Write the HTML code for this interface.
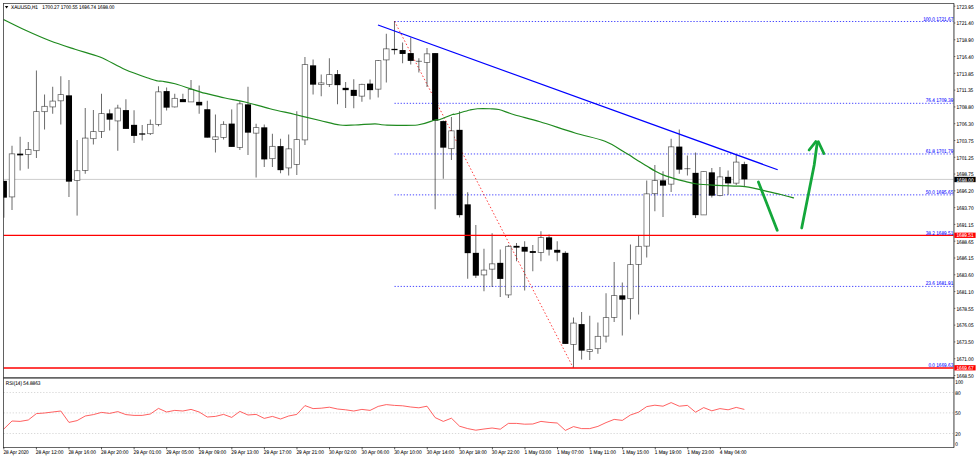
<!DOCTYPE html>
<html><head><meta charset="utf-8"><title>XAUUSD H1</title>
<style>html,body{margin:0;padding:0;background:#fff;}body{width:979px;height:460px;overflow:hidden;position:relative;font-family:"Liberation Sans",sans-serif;}</style>
</head><body>
<svg width="979" height="460" viewBox="0 0 979 460" style="position:absolute;left:0;top:0;display:block" font-family="Liberation Sans, sans-serif" font-size="4.75" text-rendering="geometricPrecision">
<rect x="0" y="0" width="979" height="460" fill="#ffffff"/>
<defs><clipPath id="cm"><rect x="3.5" y="3.5" width="950.1" height="374.3"/></clipPath></defs>
<line x1="3.5" y1="179.4" x2="953.6" y2="179.4" stroke="#b8b8b8" stroke-width="0.7"/>
<g clip-path="url(#cm)">
<line x1="394.5" y1="21.50" x2="953.6" y2="21.50" stroke="#0000ff" stroke-width="0.9" stroke-dasharray="1.3 1.75" stroke-opacity="0.8"/>
<line x1="394.5" y1="103.32" x2="953.6" y2="103.32" stroke="#0000ff" stroke-width="0.9" stroke-dasharray="1.3 1.75" stroke-opacity="0.8"/>
<line x1="394.5" y1="153.96" x2="953.6" y2="153.96" stroke="#0000ff" stroke-width="0.9" stroke-dasharray="1.3 1.75" stroke-opacity="0.8"/>
<line x1="394.5" y1="194.87" x2="953.6" y2="194.87" stroke="#0000ff" stroke-width="0.9" stroke-dasharray="1.3 1.75" stroke-opacity="0.8"/>
<line x1="394.5" y1="286.42" x2="953.6" y2="286.42" stroke="#0000ff" stroke-width="0.9" stroke-dasharray="1.3 1.75" stroke-opacity="0.8"/>
<line x1="394.5" y1="21.25" x2="573.25" y2="367.75" stroke="#ff0000" stroke-width="0.85" stroke-dasharray="1.5 2.1" stroke-opacity="0.9"/>
<line x1="3.86" y1="181.00" x2="3.86" y2="217.70" stroke="#000" stroke-width="0.65" stroke-opacity="0.9"/>
<rect x="0.81" y="180.85" width="6.10" height="16.80" fill="#000"/>
<line x1="12.00" y1="145.75" x2="12.00" y2="210.00" stroke="#000" stroke-width="0.65" stroke-opacity="0.9"/>
<rect x="9.25" y="153.85" width="5.50" height="43.05" fill="#fff" stroke="#000" stroke-width="0.8" stroke-opacity="0.58"/>
<line x1="20.14" y1="136.75" x2="20.14" y2="170.50" stroke="#000" stroke-width="0.65" stroke-opacity="0.9"/>
<rect x="17.09" y="153.65" width="6.10" height="1.70" fill="#000"/>
<line x1="28.27" y1="142.00" x2="28.27" y2="168.75" stroke="#000" stroke-width="0.65" stroke-opacity="0.9"/>
<rect x="25.52" y="149.60" width="5.50" height="4.80" fill="#fff" stroke="#000" stroke-width="0.8" stroke-opacity="0.58"/>
<line x1="36.41" y1="70.50" x2="36.41" y2="158.00" stroke="#000" stroke-width="0.65" stroke-opacity="0.9"/>
<rect x="33.66" y="111.60" width="5.50" height="39.05" fill="#fff" stroke="#000" stroke-width="0.8" stroke-opacity="0.58"/>
<line x1="44.55" y1="94.50" x2="44.55" y2="129.50" stroke="#000" stroke-width="0.65" stroke-opacity="0.9"/>
<rect x="41.80" y="106.35" width="5.50" height="5.30" fill="#fff" stroke="#000" stroke-width="0.8" stroke-opacity="0.58"/>
<line x1="52.69" y1="86.75" x2="52.69" y2="113.75" stroke="#000" stroke-width="0.65" stroke-opacity="0.9"/>
<rect x="49.94" y="101.10" width="5.50" height="5.80" fill="#fff" stroke="#000" stroke-width="0.8" stroke-opacity="0.58"/>
<line x1="60.82" y1="76.25" x2="60.82" y2="124.50" stroke="#000" stroke-width="0.65" stroke-opacity="0.9"/>
<rect x="58.07" y="94.60" width="5.50" height="6.20" fill="#fff" stroke="#000" stroke-width="0.8" stroke-opacity="0.58"/>
<line x1="68.96" y1="80.00" x2="68.96" y2="197.00" stroke="#000" stroke-width="0.65" stroke-opacity="0.9"/>
<rect x="65.91" y="95.35" width="6.10" height="86.30" fill="#000"/>
<line x1="77.10" y1="140.00" x2="77.10" y2="215.60" stroke="#000" stroke-width="0.65" stroke-opacity="0.9"/>
<rect x="74.35" y="170.70" width="5.50" height="9.70" fill="#fff" stroke="#000" stroke-width="0.8" stroke-opacity="0.58"/>
<line x1="85.24" y1="108.00" x2="85.24" y2="173.75" stroke="#000" stroke-width="0.65" stroke-opacity="0.9"/>
<rect x="82.49" y="138.10" width="5.50" height="32.30" fill="#fff" stroke="#000" stroke-width="0.8" stroke-opacity="0.58"/>
<line x1="93.38" y1="110.00" x2="93.38" y2="144.50" stroke="#000" stroke-width="0.65" stroke-opacity="0.9"/>
<rect x="90.62" y="131.60" width="5.50" height="7.05" fill="#fff" stroke="#000" stroke-width="0.8" stroke-opacity="0.58"/>
<line x1="101.51" y1="93.75" x2="101.51" y2="138.00" stroke="#000" stroke-width="0.65" stroke-opacity="0.9"/>
<rect x="98.76" y="113.60" width="5.50" height="17.80" fill="#fff" stroke="#000" stroke-width="0.8" stroke-opacity="0.58"/>
<line x1="109.65" y1="109.40" x2="109.65" y2="130.50" stroke="#000" stroke-width="0.65" stroke-opacity="0.9"/>
<rect x="106.60" y="113.35" width="6.10" height="6.30" fill="#000"/>
<line x1="117.79" y1="104.75" x2="117.79" y2="150.75" stroke="#000" stroke-width="0.65" stroke-opacity="0.9"/>
<rect x="115.04" y="108.10" width="5.50" height="12.80" fill="#fff" stroke="#000" stroke-width="0.8" stroke-opacity="0.58"/>
<line x1="125.92" y1="99.25" x2="125.92" y2="128.75" stroke="#000" stroke-width="0.65" stroke-opacity="0.9"/>
<rect x="122.87" y="110.10" width="6.10" height="18.80" fill="#000"/>
<line x1="134.06" y1="110.25" x2="134.06" y2="143.00" stroke="#000" stroke-width="0.65" stroke-opacity="0.9"/>
<rect x="131.01" y="124.85" width="6.10" height="11.05" fill="#000"/>
<line x1="142.20" y1="125.00" x2="142.20" y2="140.50" stroke="#000" stroke-width="0.65" stroke-opacity="0.9"/>
<rect x="139.15" y="133.35" width="6.10" height="1.30" fill="#000"/>
<line x1="150.34" y1="119.50" x2="150.34" y2="135.00" stroke="#000" stroke-width="0.65" stroke-opacity="0.9"/>
<rect x="147.59" y="124.35" width="5.50" height="9.30" fill="#fff" stroke="#000" stroke-width="0.8" stroke-opacity="0.58"/>
<line x1="158.47" y1="86.25" x2="158.47" y2="126.25" stroke="#000" stroke-width="0.65" stroke-opacity="0.9"/>
<rect x="155.72" y="91.85" width="5.50" height="32.55" fill="#fff" stroke="#000" stroke-width="0.8" stroke-opacity="0.58"/>
<line x1="166.61" y1="87.50" x2="166.61" y2="110.50" stroke="#000" stroke-width="0.65" stroke-opacity="0.9"/>
<rect x="163.56" y="91.10" width="6.10" height="16.55" fill="#000"/>
<line x1="174.75" y1="93.75" x2="174.75" y2="107.50" stroke="#000" stroke-width="0.65" stroke-opacity="0.9"/>
<rect x="172.00" y="98.35" width="5.50" height="8.55" fill="#fff" stroke="#000" stroke-width="0.8" stroke-opacity="0.58"/>
<line x1="182.89" y1="93.75" x2="182.89" y2="102.00" stroke="#000" stroke-width="0.65" stroke-opacity="0.9"/>
<rect x="179.84" y="99.10" width="6.10" height="3.05" fill="#000"/>
<line x1="191.02" y1="80.00" x2="191.02" y2="102.00" stroke="#000" stroke-width="0.65" stroke-opacity="0.9"/>
<rect x="188.27" y="89.35" width="5.50" height="12.55" fill="#fff" stroke="#000" stroke-width="0.8" stroke-opacity="0.58"/>
<line x1="199.16" y1="85.50" x2="199.16" y2="113.75" stroke="#000" stroke-width="0.65" stroke-opacity="0.9"/>
<rect x="196.11" y="101.85" width="6.10" height="3.55" fill="#000"/>
<line x1="207.30" y1="100.75" x2="207.30" y2="137.50" stroke="#000" stroke-width="0.65" stroke-opacity="0.9"/>
<rect x="204.25" y="109.25" width="6.10" height="28.40" fill="#000"/>
<line x1="215.44" y1="114.50" x2="215.44" y2="152.50" stroke="#000" stroke-width="0.65" stroke-opacity="0.9"/>
<rect x="212.69" y="136.85" width="5.50" height="2.55" fill="#fff" stroke="#000" stroke-width="0.8" stroke-opacity="0.58"/>
<line x1="223.57" y1="121.25" x2="223.57" y2="139.50" stroke="#000" stroke-width="0.65" stroke-opacity="0.9"/>
<rect x="220.82" y="124.35" width="5.50" height="13.05" fill="#fff" stroke="#000" stroke-width="0.8" stroke-opacity="0.58"/>
<line x1="231.71" y1="109.40" x2="231.71" y2="146.75" stroke="#000" stroke-width="0.65" stroke-opacity="0.9"/>
<rect x="228.66" y="123.60" width="6.10" height="23.30" fill="#000"/>
<line x1="239.85" y1="101.25" x2="239.85" y2="150.00" stroke="#000" stroke-width="0.65" stroke-opacity="0.9"/>
<rect x="237.10" y="103.85" width="5.50" height="43.55" fill="#fff" stroke="#000" stroke-width="0.8" stroke-opacity="0.58"/>
<line x1="247.99" y1="86.75" x2="247.99" y2="155.00" stroke="#000" stroke-width="0.65" stroke-opacity="0.9"/>
<rect x="244.94" y="104.35" width="6.10" height="28.30" fill="#000"/>
<line x1="256.12" y1="123.75" x2="256.12" y2="177.50" stroke="#000" stroke-width="0.65" stroke-opacity="0.9"/>
<rect x="253.38" y="127.60" width="5.50" height="5.55" fill="#fff" stroke="#000" stroke-width="0.8" stroke-opacity="0.58"/>
<line x1="264.26" y1="124.50" x2="264.26" y2="167.00" stroke="#000" stroke-width="0.65" stroke-opacity="0.9"/>
<rect x="261.21" y="127.35" width="6.10" height="32.05" fill="#000"/>
<line x1="272.40" y1="133.75" x2="272.40" y2="167.00" stroke="#000" stroke-width="0.65" stroke-opacity="0.9"/>
<rect x="269.65" y="146.35" width="5.50" height="12.30" fill="#fff" stroke="#000" stroke-width="0.8" stroke-opacity="0.58"/>
<line x1="280.54" y1="138.75" x2="280.54" y2="173.25" stroke="#000" stroke-width="0.65" stroke-opacity="0.9"/>
<rect x="277.49" y="146.10" width="6.10" height="24.05" fill="#000"/>
<line x1="288.67" y1="134.50" x2="288.67" y2="175.50" stroke="#000" stroke-width="0.65" stroke-opacity="0.9"/>
<rect x="285.92" y="148.85" width="5.50" height="19.05" fill="#fff" stroke="#000" stroke-width="0.8" stroke-opacity="0.58"/>
<line x1="296.81" y1="111.25" x2="296.81" y2="175.00" stroke="#000" stroke-width="0.65" stroke-opacity="0.9"/>
<rect x="294.06" y="139.60" width="5.50" height="24.80" fill="#fff" stroke="#000" stroke-width="0.8" stroke-opacity="0.58"/>
<line x1="304.95" y1="57.00" x2="304.95" y2="145.00" stroke="#000" stroke-width="0.65" stroke-opacity="0.9"/>
<rect x="302.20" y="64.60" width="5.50" height="75.30" fill="#fff" stroke="#000" stroke-width="0.8" stroke-opacity="0.58"/>
<line x1="313.09" y1="59.50" x2="313.09" y2="94.50" stroke="#000" stroke-width="0.65" stroke-opacity="0.9"/>
<rect x="310.04" y="65.35" width="6.10" height="19.30" fill="#000"/>
<line x1="321.22" y1="74.50" x2="321.22" y2="96.25" stroke="#000" stroke-width="0.65" stroke-opacity="0.9"/>
<rect x="318.47" y="82.90" width="5.50" height="1.60" fill="#fff" stroke="#000" stroke-width="0.8" stroke-opacity="0.58"/>
<line x1="329.36" y1="58.25" x2="329.36" y2="87.00" stroke="#000" stroke-width="0.65" stroke-opacity="0.9"/>
<rect x="326.61" y="74.60" width="5.50" height="9.80" fill="#fff" stroke="#000" stroke-width="0.8" stroke-opacity="0.58"/>
<line x1="337.50" y1="70.00" x2="337.50" y2="104.25" stroke="#000" stroke-width="0.65" stroke-opacity="0.9"/>
<rect x="334.45" y="74.10" width="6.10" height="11.05" fill="#000"/>
<line x1="345.64" y1="82.00" x2="345.64" y2="108.00" stroke="#000" stroke-width="0.65" stroke-opacity="0.9"/>
<rect x="342.59" y="87.85" width="6.10" height="2.30" fill="#000"/>
<line x1="353.77" y1="79.25" x2="353.77" y2="108.25" stroke="#000" stroke-width="0.65" stroke-opacity="0.9"/>
<rect x="350.72" y="89.85" width="6.10" height="6.05" fill="#000"/>
<line x1="361.91" y1="83.75" x2="361.91" y2="101.75" stroke="#000" stroke-width="0.65" stroke-opacity="0.9"/>
<rect x="359.16" y="84.35" width="5.50" height="11.80" fill="#fff" stroke="#000" stroke-width="0.8" stroke-opacity="0.58"/>
<line x1="370.05" y1="79.50" x2="370.05" y2="99.50" stroke="#000" stroke-width="0.65" stroke-opacity="0.9"/>
<rect x="367.00" y="83.60" width="6.10" height="6.55" fill="#000"/>
<line x1="378.19" y1="60.00" x2="378.19" y2="97.50" stroke="#000" stroke-width="0.65" stroke-opacity="0.9"/>
<rect x="375.44" y="60.60" width="5.50" height="28.55" fill="#fff" stroke="#000" stroke-width="0.8" stroke-opacity="0.58"/>
<line x1="386.32" y1="33.75" x2="386.32" y2="82.50" stroke="#000" stroke-width="0.65" stroke-opacity="0.9"/>
<rect x="383.57" y="48.85" width="5.50" height="11.05" fill="#fff" stroke="#000" stroke-width="0.8" stroke-opacity="0.58"/>
<line x1="394.46" y1="21.25" x2="394.46" y2="54.50" stroke="#000" stroke-width="0.65" stroke-opacity="0.9"/>
<rect x="391.41" y="48.85" width="6.10" height="1.30" fill="#000"/>
<line x1="402.60" y1="42.50" x2="402.60" y2="63.25" stroke="#000" stroke-width="0.65" stroke-opacity="0.9"/>
<rect x="399.55" y="50.05" width="6.10" height="3.90" fill="#000"/>
<line x1="410.74" y1="37.50" x2="410.74" y2="64.50" stroke="#000" stroke-width="0.65" stroke-opacity="0.9"/>
<rect x="407.69" y="53.10" width="6.10" height="7.80" fill="#000"/>
<line x1="418.87" y1="58.25" x2="418.87" y2="72.50" stroke="#000" stroke-width="0.65" stroke-opacity="0.9"/>
<line x1="415.82" y1="61.30" x2="421.92" y2="61.30" stroke="#000" stroke-width="0.9" stroke-opacity="0.6"/>
<line x1="427.01" y1="48.00" x2="427.01" y2="87.00" stroke="#000" stroke-width="0.65" stroke-opacity="0.9"/>
<rect x="424.26" y="53.85" width="5.50" height="8.55" fill="#fff" stroke="#000" stroke-width="0.8" stroke-opacity="0.58"/>
<line x1="435.15" y1="53.25" x2="435.15" y2="209.25" stroke="#000" stroke-width="0.65" stroke-opacity="0.9"/>
<rect x="432.10" y="53.10" width="6.10" height="67.55" fill="#000"/>
<line x1="443.29" y1="120.50" x2="443.29" y2="178.75" stroke="#000" stroke-width="0.65" stroke-opacity="0.9"/>
<rect x="440.24" y="121.10" width="6.10" height="26.55" fill="#000"/>
<line x1="451.42" y1="117.00" x2="451.42" y2="160.00" stroke="#000" stroke-width="0.65" stroke-opacity="0.9"/>
<rect x="448.67" y="130.85" width="5.50" height="17.80" fill="#fff" stroke="#000" stroke-width="0.8" stroke-opacity="0.58"/>
<line x1="459.56" y1="111.25" x2="459.56" y2="217.50" stroke="#000" stroke-width="0.65" stroke-opacity="0.9"/>
<rect x="456.51" y="129.85" width="6.10" height="85.30" fill="#000"/>
<line x1="467.70" y1="192.25" x2="467.70" y2="278.75" stroke="#000" stroke-width="0.65" stroke-opacity="0.9"/>
<rect x="464.65" y="204.35" width="6.10" height="48.80" fill="#000"/>
<line x1="475.84" y1="225.00" x2="475.84" y2="278.00" stroke="#000" stroke-width="0.65" stroke-opacity="0.9"/>
<rect x="472.79" y="252.85" width="6.10" height="22.80" fill="#000"/>
<line x1="483.97" y1="248.75" x2="483.97" y2="291.25" stroke="#000" stroke-width="0.65" stroke-opacity="0.9"/>
<rect x="481.22" y="270.10" width="5.50" height="4.80" fill="#fff" stroke="#000" stroke-width="0.8" stroke-opacity="0.58"/>
<line x1="492.11" y1="233.25" x2="492.11" y2="287.00" stroke="#000" stroke-width="0.65" stroke-opacity="0.9"/>
<rect x="489.36" y="263.85" width="5.50" height="5.30" fill="#fff" stroke="#000" stroke-width="0.8" stroke-opacity="0.58"/>
<line x1="500.25" y1="249.50" x2="500.25" y2="297.00" stroke="#000" stroke-width="0.65" stroke-opacity="0.9"/>
<rect x="497.20" y="262.85" width="6.10" height="16.05" fill="#000"/>
<line x1="508.39" y1="245.00" x2="508.39" y2="298.00" stroke="#000" stroke-width="0.65" stroke-opacity="0.9"/>
<rect x="505.64" y="246.35" width="5.50" height="48.55" fill="#fff" stroke="#000" stroke-width="0.8" stroke-opacity="0.58"/>
<line x1="516.52" y1="243.00" x2="516.52" y2="261.25" stroke="#000" stroke-width="0.65" stroke-opacity="0.9"/>
<rect x="513.48" y="245.85" width="6.10" height="1.80" fill="#000"/>
<line x1="524.66" y1="241.25" x2="524.66" y2="290.50" stroke="#000" stroke-width="0.65" stroke-opacity="0.9"/>
<rect x="521.61" y="246.85" width="6.10" height="4.80" fill="#000"/>
<line x1="532.80" y1="245.00" x2="532.80" y2="271.25" stroke="#000" stroke-width="0.65" stroke-opacity="0.9"/>
<rect x="529.75" y="251.10" width="6.10" height="1.80" fill="#000"/>
<line x1="540.94" y1="231.25" x2="540.94" y2="261.25" stroke="#000" stroke-width="0.65" stroke-opacity="0.9"/>
<rect x="538.19" y="237.60" width="5.50" height="14.80" fill="#fff" stroke="#000" stroke-width="0.8" stroke-opacity="0.58"/>
<line x1="549.07" y1="234.50" x2="549.07" y2="255.50" stroke="#000" stroke-width="0.65" stroke-opacity="0.9"/>
<rect x="546.02" y="237.35" width="6.10" height="12.30" fill="#000"/>
<line x1="557.21" y1="241.25" x2="557.21" y2="261.25" stroke="#000" stroke-width="0.65" stroke-opacity="0.9"/>
<rect x="554.16" y="249.85" width="6.10" height="2.80" fill="#000"/>
<line x1="565.35" y1="251.25" x2="565.35" y2="343.75" stroke="#000" stroke-width="0.65" stroke-opacity="0.9"/>
<rect x="562.30" y="252.85" width="6.10" height="91.05" fill="#000"/>
<line x1="573.49" y1="317.50" x2="573.49" y2="367.50" stroke="#000" stroke-width="0.65" stroke-opacity="0.9"/>
<rect x="570.74" y="323.10" width="5.50" height="21.30" fill="#fff" stroke="#000" stroke-width="0.8" stroke-opacity="0.58"/>
<line x1="581.62" y1="312.00" x2="581.62" y2="359.50" stroke="#000" stroke-width="0.65" stroke-opacity="0.9"/>
<rect x="578.58" y="324.10" width="6.10" height="26.55" fill="#000"/>
<line x1="589.76" y1="315.75" x2="589.76" y2="360.00" stroke="#000" stroke-width="0.65" stroke-opacity="0.9"/>
<rect x="587.01" y="349.60" width="5.50" height="1.80" fill="#fff" stroke="#000" stroke-width="0.8" stroke-opacity="0.58"/>
<line x1="597.90" y1="322.50" x2="597.90" y2="353.75" stroke="#000" stroke-width="0.65" stroke-opacity="0.9"/>
<rect x="595.15" y="336.35" width="5.50" height="12.30" fill="#fff" stroke="#000" stroke-width="0.8" stroke-opacity="0.58"/>
<line x1="606.04" y1="293.25" x2="606.04" y2="342.50" stroke="#000" stroke-width="0.65" stroke-opacity="0.9"/>
<rect x="603.29" y="317.60" width="5.50" height="18.55" fill="#fff" stroke="#000" stroke-width="0.8" stroke-opacity="0.58"/>
<line x1="614.17" y1="262.00" x2="614.17" y2="322.00" stroke="#000" stroke-width="0.65" stroke-opacity="0.9"/>
<rect x="611.42" y="295.60" width="5.50" height="21.80" fill="#fff" stroke="#000" stroke-width="0.8" stroke-opacity="0.58"/>
<line x1="622.31" y1="282.50" x2="622.31" y2="335.50" stroke="#000" stroke-width="0.65" stroke-opacity="0.9"/>
<rect x="619.26" y="295.35" width="6.10" height="4.30" fill="#000"/>
<line x1="630.45" y1="244.50" x2="630.45" y2="319.50" stroke="#000" stroke-width="0.65" stroke-opacity="0.9"/>
<rect x="627.70" y="264.60" width="5.50" height="34.05" fill="#fff" stroke="#000" stroke-width="0.8" stroke-opacity="0.58"/>
<line x1="638.59" y1="235.75" x2="638.59" y2="314.50" stroke="#000" stroke-width="0.65" stroke-opacity="0.9"/>
<rect x="635.84" y="246.35" width="5.50" height="18.05" fill="#fff" stroke="#000" stroke-width="0.8" stroke-opacity="0.58"/>
<line x1="646.72" y1="180.50" x2="646.72" y2="257.50" stroke="#000" stroke-width="0.65" stroke-opacity="0.9"/>
<rect x="643.97" y="193.85" width="5.50" height="52.30" fill="#fff" stroke="#000" stroke-width="0.8" stroke-opacity="0.58"/>
<line x1="654.86" y1="165.00" x2="654.86" y2="211.25" stroke="#000" stroke-width="0.65" stroke-opacity="0.9"/>
<rect x="652.11" y="180.60" width="5.50" height="13.05" fill="#fff" stroke="#000" stroke-width="0.8" stroke-opacity="0.58"/>
<line x1="663.00" y1="171.25" x2="663.00" y2="217.00" stroke="#000" stroke-width="0.65" stroke-opacity="0.9"/>
<rect x="659.95" y="180.35" width="6.10" height="5.30" fill="#000"/>
<line x1="671.14" y1="138.75" x2="671.14" y2="192.00" stroke="#000" stroke-width="0.65" stroke-opacity="0.9"/>
<rect x="668.39" y="146.85" width="5.50" height="37.30" fill="#fff" stroke="#000" stroke-width="0.8" stroke-opacity="0.58"/>
<line x1="679.27" y1="129.50" x2="679.27" y2="173.75" stroke="#000" stroke-width="0.65" stroke-opacity="0.9"/>
<rect x="676.23" y="146.60" width="6.10" height="23.05" fill="#000"/>
<line x1="687.41" y1="155.50" x2="687.41" y2="175.50" stroke="#000" stroke-width="0.65" stroke-opacity="0.9"/>
<line x1="684.36" y1="168.70" x2="690.46" y2="168.70" stroke="#000" stroke-width="0.9" stroke-opacity="0.6"/>
<line x1="695.55" y1="152.50" x2="695.55" y2="218.00" stroke="#000" stroke-width="0.65" stroke-opacity="0.9"/>
<rect x="692.50" y="172.85" width="6.10" height="42.30" fill="#000"/>
<line x1="703.69" y1="171.50" x2="703.69" y2="215.00" stroke="#000" stroke-width="0.65" stroke-opacity="0.9"/>
<rect x="700.94" y="171.60" width="5.50" height="43.30" fill="#fff" stroke="#000" stroke-width="0.8" stroke-opacity="0.58"/>
<line x1="711.82" y1="168.00" x2="711.82" y2="197.50" stroke="#000" stroke-width="0.65" stroke-opacity="0.9"/>
<rect x="708.77" y="172.35" width="6.10" height="23.30" fill="#000"/>
<line x1="719.96" y1="167.00" x2="719.96" y2="196.25" stroke="#000" stroke-width="0.65" stroke-opacity="0.9"/>
<rect x="717.21" y="176.85" width="5.50" height="18.55" fill="#fff" stroke="#000" stroke-width="0.8" stroke-opacity="0.58"/>
<line x1="728.10" y1="170.50" x2="728.10" y2="194.75" stroke="#000" stroke-width="0.65" stroke-opacity="0.9"/>
<rect x="725.05" y="176.85" width="6.10" height="6.55" fill="#000"/>
<line x1="736.24" y1="154.50" x2="736.24" y2="185.00" stroke="#000" stroke-width="0.65" stroke-opacity="0.9"/>
<rect x="733.49" y="162.10" width="5.50" height="21.05" fill="#fff" stroke="#000" stroke-width="0.8" stroke-opacity="0.58"/>
<line x1="744.37" y1="161.75" x2="744.37" y2="187.00" stroke="#000" stroke-width="0.65" stroke-opacity="0.9"/>
<rect x="741.32" y="164.10" width="6.10" height="15.30" fill="#000"/>
<line x1="3.5" y1="235.3" x2="953.6" y2="235.3" stroke="#ff0000" stroke-width="1.25"/>
<line x1="3.5" y1="367.95" x2="953.6" y2="367.95" stroke="#ff0000" stroke-width="1.6"/>
<path fill="none" stroke="#1f8a1f" stroke-width="1.25" stroke-linejoin="round" d="M3.50 19.50 C7.08 21.25 17.25 26.46 25.00 30.00 C32.75 33.54 41.67 37.54 50.00 40.75 C58.33 43.96 66.67 46.54 75.00 49.25 C83.33 51.96 91.67 53.62 100.00 57.00 C108.33 60.38 116.67 65.88 125.00 69.50 C133.33 73.12 144.50 76.83 150.00 78.75 C155.50 80.67 155.92 80.58 158.00 81.00 C160.08 81.42 159.67 80.79 162.50 81.25 C165.33 81.71 168.75 81.99 175.00 83.75 C181.25 85.51 194.67 90.14 200.00 91.80 C205.33 93.46 202.83 92.67 207.00 93.70 C211.17 94.73 218.67 96.62 225.00 98.00 C231.33 99.38 237.50 100.21 245.00 102.00 C252.50 103.79 261.67 106.67 270.00 108.75 C278.33 110.83 286.67 112.54 295.00 114.50 C303.33 116.46 312.50 118.75 320.00 120.50 C327.50 122.25 334.17 124.25 340.00 125.00 C345.83 125.75 349.17 125.21 355.00 125.00 C360.83 124.79 370.00 123.75 375.00 123.75 C380.00 123.75 377.92 124.79 385.00 125.00 C392.08 125.21 409.17 125.83 417.50 125.00 C425.83 124.17 431.25 120.92 435.00 120.00 C438.75 119.08 437.08 120.42 440.00 119.50 C442.92 118.58 450.00 115.38 452.50 114.50 C455.00 113.62 452.08 115.00 455.00 114.25 C457.92 113.50 466.25 110.92 470.00 110.00 C473.75 109.08 474.17 108.96 477.50 108.75 C480.83 108.54 486.46 108.62 490.00 108.75 C493.54 108.88 494.58 108.46 498.75 109.50 C502.92 110.54 508.12 112.96 515.00 115.00 C521.88 117.04 530.00 118.75 540.00 121.75 C550.00 124.75 564.17 129.75 575.00 133.00 C585.83 136.25 596.67 138.00 605.00 141.25 C613.33 144.50 620.83 150.12 625.00 152.50 C629.17 154.88 627.83 154.12 630.00 155.50 C632.17 156.88 635.21 159.05 638.00 160.80 C640.79 162.55 643.92 164.30 646.75 166.00 C649.58 167.70 652.29 169.53 655.00 171.00 C657.71 172.47 660.17 173.67 663.00 174.80 C665.83 175.93 668.50 176.73 672.00 177.80 C675.50 178.87 679.83 180.17 684.00 181.20 C688.17 182.23 691.50 183.32 697.00 184.00 C702.50 184.68 710.33 184.95 717.00 185.30 C723.67 185.65 732.33 185.88 737.00 186.10 C741.67 186.32 742.45 186.32 745.00 186.60 C747.55 186.88 749.13 187.12 752.30 187.80 C755.47 188.48 759.27 189.58 764.00 190.70 C768.73 191.82 775.70 193.30 780.70 194.50 C785.70 195.70 791.78 197.33 794.00 197.90"/>
<line x1="378" y1="25" x2="777.7" y2="169.75" stroke="#0000ff" stroke-width="1.25"/>
<g stroke="#14a73b" stroke-width="2.8" stroke-linecap="round" fill="none">
<line x1="758.4" y1="182" x2="777.2" y2="230.3"/>
<polyline points="801.7,228 814.2,165 817.3,142.2"/>
<line x1="809.1" y1="150" x2="815.8" y2="141.6"/>
<line x1="823.9" y1="153.5" x2="818.4" y2="141.8"/>
</g>
</g>
<text transform="translate(953.30,20.55) scale(0.875,1)" font-size="5.4" fill="#0000ff" text-anchor="end" stroke="#0000ff" stroke-width="0.06" >100.0 1721.67</text>
<text transform="translate(953.30,102.37) scale(0.875,1)" font-size="5.4" fill="#0000ff" text-anchor="end" stroke="#0000ff" stroke-width="0.06" >76.4 1709.39</text>
<text transform="translate(953.30,153.01) scale(0.875,1)" font-size="5.4" fill="#0000ff" text-anchor="end" stroke="#0000ff" stroke-width="0.06" >61.8 1701.79</text>
<text transform="translate(953.30,193.92) scale(0.875,1)" font-size="5.4" fill="#0000ff" text-anchor="end" stroke="#0000ff" stroke-width="0.06" >50.0 1695.65</text>
<text transform="translate(953.30,234.83) scale(0.875,1)" font-size="5.4" fill="#0000ff" text-anchor="end" stroke="#0000ff" stroke-width="0.06" >38.2 1689.51</text>
<text transform="translate(953.30,285.47) scale(0.875,1)" font-size="5.4" fill="#0000ff" text-anchor="end" stroke="#0000ff" stroke-width="0.06" >23.6 1681.91</text>
<text transform="translate(953.30,367.03) scale(0.875,1)" font-size="5.4" fill="#0000ff" text-anchor="end" stroke="#0000ff" stroke-width="0.06" >0.0 1669.63</text>
<g>
<line x1="3.5" y1="392.5" x2="953.6" y2="392.5" stroke="#000" stroke-opacity="0.19" stroke-width="0.8" stroke-dasharray="1.3 1.75"/>
<line x1="3.5" y1="412.9" x2="953.6" y2="412.9" stroke="#000" stroke-opacity="0.19" stroke-width="0.8" stroke-dasharray="1.3 1.75"/>
<line x1="3.5" y1="433.5" x2="953.6" y2="433.5" stroke="#000" stroke-opacity="0.19" stroke-width="0.8" stroke-dasharray="1.3 1.75"/>
<polyline fill="none" stroke="#ff4444" stroke-width="0.85" stroke-linejoin="round" points="3.86,429.00 12.00,421.00 20.14,421.40 28.27,420.00 36.41,413.60 44.55,413.00 52.69,412.00 60.82,411.00 68.96,422.40 77.10,420.60 85.24,416.00 93.38,414.60 101.51,412.40 109.65,413.40 117.79,411.60 125.92,414.60 134.06,415.40 142.20,415.40 150.34,414.00 158.47,408.40 166.61,412.00 174.75,410.40 182.89,411.00 191.02,409.40 199.16,412.00 207.30,417.00 215.44,416.40 223.57,414.40 231.71,417.40 239.85,411.40 247.99,415.00 256.12,414.40 264.26,418.40 272.40,416.40 280.54,419.00 288.67,416.00 296.81,414.40 304.95,405.60 313.09,408.60 321.22,408.20 329.36,407.20 337.50,409.00 345.64,409.80 353.77,411.00 361.91,409.40 370.05,410.40 378.19,406.40 386.32,404.60 394.46,405.40 402.60,405.80 410.74,407.00 418.87,407.80 427.01,406.20 435.15,417.60 443.29,421.40 451.42,418.20 459.56,426.20 467.70,428.60 475.84,430.20 483.97,429.00 492.11,428.00 500.25,429.20 508.39,423.40 516.52,423.40 524.66,424.20 532.80,424.00 540.94,421.40 549.07,422.40 557.21,423.00 565.35,430.40 573.49,426.60 581.62,428.60 589.76,428.60 597.90,426.40 606.04,422.60 614.17,419.40 622.31,420.40 630.45,415.00 638.59,412.20 646.72,406.60 654.86,405.20 663.00,406.20 671.14,402.60 679.27,406.20 687.41,405.40 695.55,412.20 703.69,407.60 711.82,410.80 719.96,408.60 728.10,409.80 736.24,407.40 744.37,409.40"/>
</g>
<g stroke="#000" fill="none">
<line x1="3" y1="3.5" x2="954.1" y2="3.5" stroke-width="1" stroke-opacity="0.6"/>
<line x1="3.5" y1="3.5" x2="3.5" y2="447.5" stroke-width="1" stroke-opacity="0.62"/>
<line x1="953.9" y1="3.5" x2="953.9" y2="447.5" stroke-width="1.7" stroke-opacity="0.45"/>
<line x1="3" y1="447.5" x2="954.1" y2="447.5" stroke-width="1" stroke-opacity="0.6"/>
<line x1="3.5" y1="377.8" x2="954.4" y2="377.8" stroke-width="1.75" stroke-opacity="0.6"/>
</g>
<line x1="954" y1="6.20" x2="955.4" y2="6.20" stroke="#000" stroke-width="0.7" stroke-opacity="0.7"/>
<text transform="translate(956.50,8.50) scale(0.875,1)" font-size="5.4" fill="#000" text-anchor="start" stroke="#000" stroke-width="0.06" >1723.95</text>
<line x1="954" y1="22.99" x2="955.4" y2="22.99" stroke="#000" stroke-width="0.7" stroke-opacity="0.7"/>
<text transform="translate(956.50,25.29) scale(0.875,1)" font-size="5.4" fill="#000" text-anchor="start" stroke="#000" stroke-width="0.06" >1721.40</text>
<line x1="954" y1="39.77" x2="955.4" y2="39.77" stroke="#000" stroke-width="0.7" stroke-opacity="0.7"/>
<text transform="translate(956.50,42.07) scale(0.875,1)" font-size="5.4" fill="#000" text-anchor="start" stroke="#000" stroke-width="0.06" >1718.90</text>
<line x1="954" y1="56.56" x2="955.4" y2="56.56" stroke="#000" stroke-width="0.7" stroke-opacity="0.7"/>
<text transform="translate(956.50,58.86) scale(0.875,1)" font-size="5.4" fill="#000" text-anchor="start" stroke="#000" stroke-width="0.06" >1716.40</text>
<line x1="954" y1="73.34" x2="955.4" y2="73.34" stroke="#000" stroke-width="0.7" stroke-opacity="0.7"/>
<text transform="translate(956.50,75.64) scale(0.875,1)" font-size="5.4" fill="#000" text-anchor="start" stroke="#000" stroke-width="0.06" >1713.85</text>
<line x1="954" y1="90.13" x2="955.4" y2="90.13" stroke="#000" stroke-width="0.7" stroke-opacity="0.7"/>
<text transform="translate(956.50,92.43) scale(0.875,1)" font-size="5.4" fill="#000" text-anchor="start" stroke="#000" stroke-width="0.06" >1711.35</text>
<line x1="954" y1="106.92" x2="955.4" y2="106.92" stroke="#000" stroke-width="0.7" stroke-opacity="0.7"/>
<text transform="translate(956.50,109.22) scale(0.875,1)" font-size="5.4" fill="#000" text-anchor="start" stroke="#000" stroke-width="0.06" >1708.80</text>
<line x1="954" y1="123.70" x2="955.4" y2="123.70" stroke="#000" stroke-width="0.7" stroke-opacity="0.7"/>
<text transform="translate(956.50,126.00) scale(0.875,1)" font-size="5.4" fill="#000" text-anchor="start" stroke="#000" stroke-width="0.06" >1706.30</text>
<line x1="954" y1="140.49" x2="955.4" y2="140.49" stroke="#000" stroke-width="0.7" stroke-opacity="0.7"/>
<text transform="translate(956.50,142.79) scale(0.875,1)" font-size="5.4" fill="#000" text-anchor="start" stroke="#000" stroke-width="0.06" >1703.75</text>
<line x1="954" y1="157.27" x2="955.4" y2="157.27" stroke="#000" stroke-width="0.7" stroke-opacity="0.7"/>
<text transform="translate(956.50,159.57) scale(0.875,1)" font-size="5.4" fill="#000" text-anchor="start" stroke="#000" stroke-width="0.06" >1701.25</text>
<line x1="954" y1="174.06" x2="955.4" y2="174.06" stroke="#000" stroke-width="0.7" stroke-opacity="0.7"/>
<text transform="translate(956.50,176.36) scale(0.875,1)" font-size="5.4" fill="#000" text-anchor="start" stroke="#000" stroke-width="0.06" >1698.75</text>
<line x1="954" y1="190.85" x2="955.4" y2="190.85" stroke="#000" stroke-width="0.7" stroke-opacity="0.7"/>
<text transform="translate(956.50,193.15) scale(0.875,1)" font-size="5.4" fill="#000" text-anchor="start" stroke="#000" stroke-width="0.06" >1696.20</text>
<line x1="954" y1="207.63" x2="955.4" y2="207.63" stroke="#000" stroke-width="0.7" stroke-opacity="0.7"/>
<text transform="translate(956.50,209.93) scale(0.875,1)" font-size="5.4" fill="#000" text-anchor="start" stroke="#000" stroke-width="0.06" >1693.70</text>
<line x1="954" y1="224.42" x2="955.4" y2="224.42" stroke="#000" stroke-width="0.7" stroke-opacity="0.7"/>
<text transform="translate(956.50,226.72) scale(0.875,1)" font-size="5.4" fill="#000" text-anchor="start" stroke="#000" stroke-width="0.06" >1691.15</text>
<line x1="954" y1="241.20" x2="955.4" y2="241.20" stroke="#000" stroke-width="0.7" stroke-opacity="0.7"/>
<text transform="translate(956.50,243.50) scale(0.875,1)" font-size="5.4" fill="#000" text-anchor="start" stroke="#000" stroke-width="0.06" >1688.65</text>
<line x1="954" y1="257.99" x2="955.4" y2="257.99" stroke="#000" stroke-width="0.7" stroke-opacity="0.7"/>
<text transform="translate(956.50,260.29) scale(0.875,1)" font-size="5.4" fill="#000" text-anchor="start" stroke="#000" stroke-width="0.06" >1686.15</text>
<line x1="954" y1="274.78" x2="955.4" y2="274.78" stroke="#000" stroke-width="0.7" stroke-opacity="0.7"/>
<text transform="translate(956.50,277.08) scale(0.875,1)" font-size="5.4" fill="#000" text-anchor="start" stroke="#000" stroke-width="0.06" >1683.60</text>
<line x1="954" y1="291.56" x2="955.4" y2="291.56" stroke="#000" stroke-width="0.7" stroke-opacity="0.7"/>
<text transform="translate(956.50,293.86) scale(0.875,1)" font-size="5.4" fill="#000" text-anchor="start" stroke="#000" stroke-width="0.06" >1681.10</text>
<line x1="954" y1="308.35" x2="955.4" y2="308.35" stroke="#000" stroke-width="0.7" stroke-opacity="0.7"/>
<text transform="translate(956.50,310.65) scale(0.875,1)" font-size="5.4" fill="#000" text-anchor="start" stroke="#000" stroke-width="0.06" >1678.55</text>
<line x1="954" y1="325.13" x2="955.4" y2="325.13" stroke="#000" stroke-width="0.7" stroke-opacity="0.7"/>
<text transform="translate(956.50,327.43) scale(0.875,1)" font-size="5.4" fill="#000" text-anchor="start" stroke="#000" stroke-width="0.06" >1676.05</text>
<line x1="954" y1="341.92" x2="955.4" y2="341.92" stroke="#000" stroke-width="0.7" stroke-opacity="0.7"/>
<text transform="translate(956.50,344.22) scale(0.875,1)" font-size="5.4" fill="#000" text-anchor="start" stroke="#000" stroke-width="0.06" >1673.50</text>
<line x1="954" y1="358.71" x2="955.4" y2="358.71" stroke="#000" stroke-width="0.7" stroke-opacity="0.7"/>
<text transform="translate(956.50,361.01) scale(0.875,1)" font-size="5.4" fill="#000" text-anchor="start" stroke="#000" stroke-width="0.06" >1671.00</text>
<line x1="954" y1="375.49" x2="955.4" y2="375.49" stroke="#000" stroke-width="0.7" stroke-opacity="0.7"/>
<text transform="translate(956.50,377.79) scale(0.875,1)" font-size="5.4" fill="#000" text-anchor="start" stroke="#000" stroke-width="0.06" >1668.50</text>
<rect x="954.3" y="176.85" width="21.3" height="5.3" fill="#000"/>
<text transform="translate(956.50,181.50) scale(0.875,1)" font-size="5.4" fill="#fff" text-anchor="start" stroke="#fff" stroke-width="0.06" >1698.00</text>
<rect x="954.3" y="232.65" width="21.3" height="5.3" fill="#ff0000"/>
<text transform="translate(956.50,237.30) scale(0.875,1)" font-size="5.4" fill="#fff" text-anchor="start" stroke="#fff" stroke-width="0.06" >1689.51</text>
<rect x="954.3" y="365.15" width="21.3" height="5.3" fill="#ff0000"/>
<text transform="translate(956.50,369.80) scale(0.875,1)" font-size="5.4" fill="#fff" text-anchor="start" stroke="#fff" stroke-width="0.06" >1669.67</text>
<text transform="translate(955.30,384.00) scale(0.875,1)" font-size="5.4" fill="#000" text-anchor="start" stroke="#000" stroke-width="0.06" >100</text>
<text transform="translate(955.30,394.50) scale(0.875,1)" font-size="5.4" fill="#000" text-anchor="start" stroke="#000" stroke-width="0.06" >80</text>
<text transform="translate(955.30,415.00) scale(0.875,1)" font-size="5.4" fill="#000" text-anchor="start" stroke="#000" stroke-width="0.06" >50</text>
<text transform="translate(955.30,435.75) scale(0.875,1)" font-size="5.4" fill="#000" text-anchor="start" stroke="#000" stroke-width="0.06" >20</text>
<text transform="translate(955.30,446.25) scale(0.875,1)" font-size="5.4" fill="#000" text-anchor="start" stroke="#000" stroke-width="0.06" >0</text>
<path d="M4.9 6.0 L8.3 6.0 L6.6 8.5 Z" fill="#000"/>
<text transform="translate(11.00,8.80) scale(0.875,1)" font-size="5.4" fill="#000" text-anchor="start" stroke="#000" stroke-width="0.06" >XAUUSD,H1</text>
<text transform="translate(42.30,8.80) scale(0.875,1)" font-size="5.4" fill="#000" text-anchor="start" stroke="#000" stroke-width="0.06" >1700.27 1700.55 1696.74 1698.00</text>
<text transform="translate(5.80,384.90) scale(0.875,1)" font-size="5.4" fill="#000" text-anchor="start" stroke="#000" stroke-width="0.06" >RSI(14) 54.8863</text>
<line x1="3.83" y1="447.5" x2="3.83" y2="449.4" stroke="#000" stroke-width="0.9" stroke-opacity="0.75"/>
<text transform="translate(3.43,454.00) scale(0.87,1)" font-size="5.4" fill="#000" text-anchor="start" stroke="#000" stroke-width="0.06" >28 Apr 2020</text>
<line x1="36.40" y1="447.5" x2="36.40" y2="449.4" stroke="#000" stroke-width="0.9" stroke-opacity="0.75"/>
<text transform="translate(35.85,454.00) scale(0.9,1)" font-size="5.4" fill="#000" text-anchor="start" stroke="#000" stroke-width="0.06" >28 Apr 12:00</text>
<line x1="68.97" y1="447.5" x2="68.97" y2="449.4" stroke="#000" stroke-width="0.9" stroke-opacity="0.75"/>
<text transform="translate(68.42,454.00) scale(0.9,1)" font-size="5.4" fill="#000" text-anchor="start" stroke="#000" stroke-width="0.06" >28 Apr 16:00</text>
<line x1="101.54" y1="447.5" x2="101.54" y2="449.4" stroke="#000" stroke-width="0.9" stroke-opacity="0.75"/>
<text transform="translate(100.99,454.00) scale(0.9,1)" font-size="5.4" fill="#000" text-anchor="start" stroke="#000" stroke-width="0.06" >28 Apr 20:00</text>
<line x1="134.11" y1="447.5" x2="134.11" y2="449.4" stroke="#000" stroke-width="0.9" stroke-opacity="0.75"/>
<text transform="translate(133.56,454.00) scale(0.9,1)" font-size="5.4" fill="#000" text-anchor="start" stroke="#000" stroke-width="0.06" >29 Apr 01:00</text>
<line x1="166.69" y1="447.5" x2="166.69" y2="449.4" stroke="#000" stroke-width="0.9" stroke-opacity="0.75"/>
<text transform="translate(166.13,454.00) scale(0.9,1)" font-size="5.4" fill="#000" text-anchor="start" stroke="#000" stroke-width="0.06" >29 Apr 05:00</text>
<line x1="199.26" y1="447.5" x2="199.26" y2="449.4" stroke="#000" stroke-width="0.9" stroke-opacity="0.75"/>
<text transform="translate(198.71,454.00) scale(0.9,1)" font-size="5.4" fill="#000" text-anchor="start" stroke="#000" stroke-width="0.06" >29 Apr 09:00</text>
<line x1="231.83" y1="447.5" x2="231.83" y2="449.4" stroke="#000" stroke-width="0.9" stroke-opacity="0.75"/>
<text transform="translate(231.28,454.00) scale(0.9,1)" font-size="5.4" fill="#000" text-anchor="start" stroke="#000" stroke-width="0.06" >29 Apr 13:00</text>
<line x1="264.40" y1="447.5" x2="264.40" y2="449.4" stroke="#000" stroke-width="0.9" stroke-opacity="0.75"/>
<text transform="translate(263.85,454.00) scale(0.9,1)" font-size="5.4" fill="#000" text-anchor="start" stroke="#000" stroke-width="0.06" >29 Apr 17:00</text>
<line x1="296.97" y1="447.5" x2="296.97" y2="449.4" stroke="#000" stroke-width="0.9" stroke-opacity="0.75"/>
<text transform="translate(296.42,454.00) scale(0.9,1)" font-size="5.4" fill="#000" text-anchor="start" stroke="#000" stroke-width="0.06" >29 Apr 21:00</text>
<line x1="329.54" y1="447.5" x2="329.54" y2="449.4" stroke="#000" stroke-width="0.9" stroke-opacity="0.75"/>
<text transform="translate(328.99,454.00) scale(0.9,1)" font-size="5.4" fill="#000" text-anchor="start" stroke="#000" stroke-width="0.06" >30 Apr 02:00</text>
<line x1="362.11" y1="447.5" x2="362.11" y2="449.4" stroke="#000" stroke-width="0.9" stroke-opacity="0.75"/>
<text transform="translate(361.56,454.00) scale(0.9,1)" font-size="5.4" fill="#000" text-anchor="start" stroke="#000" stroke-width="0.06" >30 Apr 06:00</text>
<line x1="394.68" y1="447.5" x2="394.68" y2="449.4" stroke="#000" stroke-width="0.9" stroke-opacity="0.75"/>
<text transform="translate(394.13,454.00) scale(0.9,1)" font-size="5.4" fill="#000" text-anchor="start" stroke="#000" stroke-width="0.06" >30 Apr 10:00</text>
<line x1="427.25" y1="447.5" x2="427.25" y2="449.4" stroke="#000" stroke-width="0.9" stroke-opacity="0.75"/>
<text transform="translate(426.70,454.00) scale(0.9,1)" font-size="5.4" fill="#000" text-anchor="start" stroke="#000" stroke-width="0.06" >30 Apr 14:00</text>
<line x1="459.82" y1="447.5" x2="459.82" y2="449.4" stroke="#000" stroke-width="0.9" stroke-opacity="0.75"/>
<text transform="translate(459.27,454.00) scale(0.9,1)" font-size="5.4" fill="#000" text-anchor="start" stroke="#000" stroke-width="0.06" >30 Apr 18:00</text>
<line x1="492.39" y1="447.5" x2="492.39" y2="449.4" stroke="#000" stroke-width="0.9" stroke-opacity="0.75"/>
<text transform="translate(491.84,454.00) scale(0.9,1)" font-size="5.4" fill="#000" text-anchor="start" stroke="#000" stroke-width="0.06" >30 Apr 22:00</text>
<line x1="524.97" y1="447.5" x2="524.97" y2="449.4" stroke="#000" stroke-width="0.9" stroke-opacity="0.75"/>
<text transform="translate(524.42,454.00) scale(0.9,1)" font-size="5.4" fill="#000" text-anchor="start" stroke="#000" stroke-width="0.06" >1 May 03:00</text>
<line x1="557.54" y1="447.5" x2="557.54" y2="449.4" stroke="#000" stroke-width="0.9" stroke-opacity="0.75"/>
<text transform="translate(556.99,454.00) scale(0.9,1)" font-size="5.4" fill="#000" text-anchor="start" stroke="#000" stroke-width="0.06" >1 May 07:00</text>
<line x1="590.11" y1="447.5" x2="590.11" y2="449.4" stroke="#000" stroke-width="0.9" stroke-opacity="0.75"/>
<text transform="translate(589.56,454.00) scale(0.9,1)" font-size="5.4" fill="#000" text-anchor="start" stroke="#000" stroke-width="0.06" >1 May 11:00</text>
<line x1="622.68" y1="447.5" x2="622.68" y2="449.4" stroke="#000" stroke-width="0.9" stroke-opacity="0.75"/>
<text transform="translate(622.13,454.00) scale(0.9,1)" font-size="5.4" fill="#000" text-anchor="start" stroke="#000" stroke-width="0.06" >1 May 15:00</text>
<line x1="655.25" y1="447.5" x2="655.25" y2="449.4" stroke="#000" stroke-width="0.9" stroke-opacity="0.75"/>
<text transform="translate(654.70,454.00) scale(0.9,1)" font-size="5.4" fill="#000" text-anchor="start" stroke="#000" stroke-width="0.06" >1 May 19:00</text>
<line x1="687.82" y1="447.5" x2="687.82" y2="449.4" stroke="#000" stroke-width="0.9" stroke-opacity="0.75"/>
<text transform="translate(687.27,454.00) scale(0.9,1)" font-size="5.4" fill="#000" text-anchor="start" stroke="#000" stroke-width="0.06" >1 May 23:00</text>
<line x1="720.39" y1="447.5" x2="720.39" y2="449.4" stroke="#000" stroke-width="0.9" stroke-opacity="0.75"/>
<text transform="translate(719.84,454.00) scale(0.9,1)" font-size="5.4" fill="#000" text-anchor="start" stroke="#000" stroke-width="0.06" >4 May 04:00</text>
</svg>
</body></html>
